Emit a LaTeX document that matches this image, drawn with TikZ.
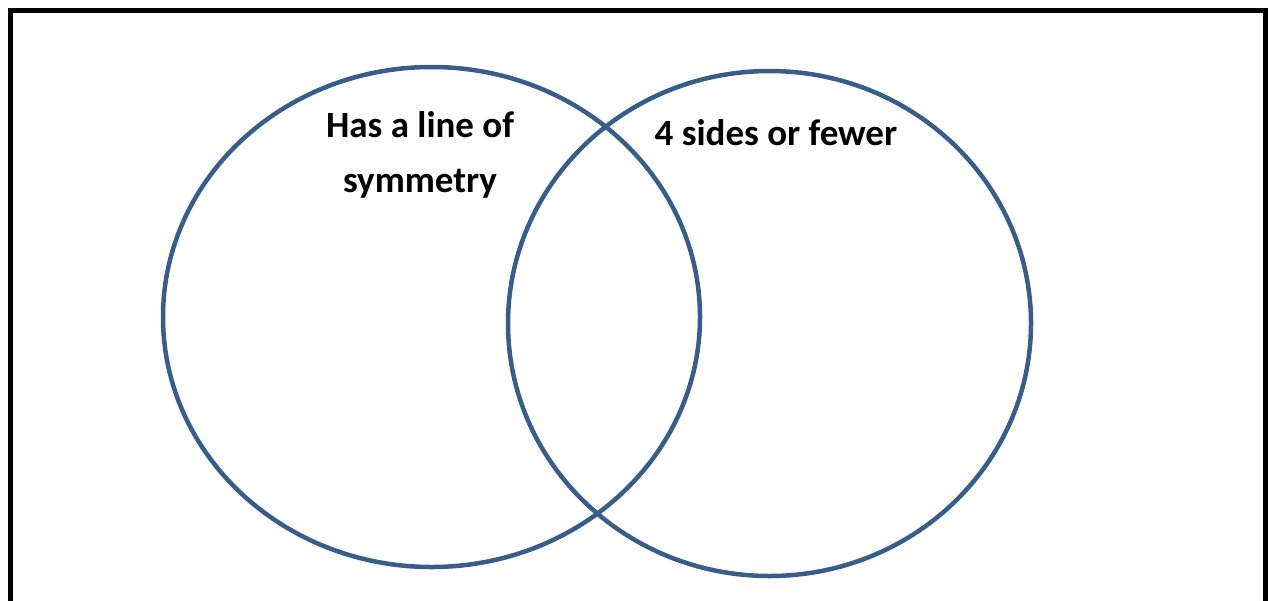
\documentclass[tikz,border=0pt]{standalone}
\usepackage{fontspec}
\setmainfont{Carlito}
\definecolor{venn}{HTML}{385D8A}
\begin{document}
\begin{tikzpicture}[x=1pt,y=-1pt,
  setring/.style={draw=venn,line width=4.5pt},
  lbl/.style={font=\bfseries\fontsize{37}{46}\selectfont,align=center,anchor=base,inner sep=0pt}]
\useasboundingbox (0,0) rectangle (1268,600);
\clip (0,0) rectangle (1268,600);
\draw[line width=5pt] (10.5,10.5) rectangle (1265.5,640);
\draw[setring] (431.5,317) ellipse [x radius=268.5,y radius=250];
\draw[setring] (769.5,323.5) ellipse [x radius=261.5,y radius=252.5];
\node[lbl] (la) at (420,137) {Has a line of};
\node[lbl] (lb) at (420,192) {symmetry};
\node[lbl] (lc) at (776,145) {4 sides or fewer};
\end{tikzpicture}
\end{document}
